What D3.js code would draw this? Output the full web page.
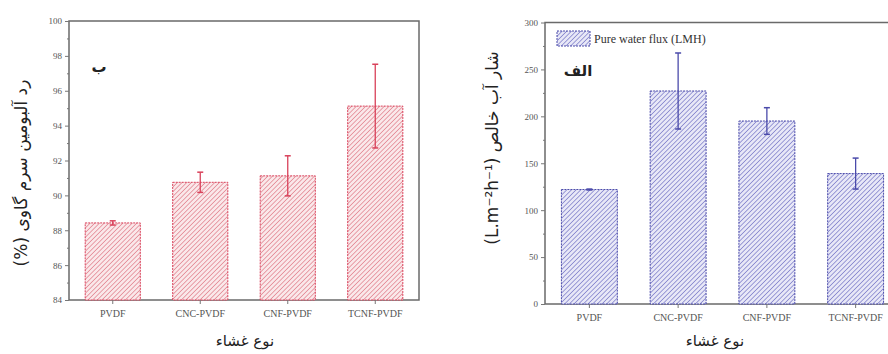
<!DOCTYPE html>
<html>
<head>
<meta charset="utf-8">
<script src="https://d3js.org/d3.v7.min.js"></script>
<style>
  body { margin: 0; background: #fff; }
  svg { display: block; }
  .tick text { font-family: "Liberation Serif", serif; fill: #555; }
</style>
</head>
<body>
<svg id="chart" width="888" height="354"></svg>
<script>
// membrane types
var categories = ["PVDF", "CNC-PVDF", "CNF-PVDF", "TCNF-PVDF"];

// left panel: BSA rejection (%)
var rejection = [88.42, 90.75, 91.12, 95.12];
var rejectionErr = [0.12, 0.58, 1.15, 2.4];
var rejectionTicks = [84, 86, 88, 90, 92, 94, 96, 98, 100];

// right panel: pure water flux (LMH)
var flux = [122, 227, 195, 139];
var fluxErr = [0.5, 40.5, 14.2, 16.5];
var fluxTicks = [0, 50, 100, 150, 200, 250, 300];

var svg = d3.select("#chart");
var defs = svg.append("defs");

function hatch(id, bg, line) {
    var p = defs.append("pattern")
        .attr("id", id)
        .attr("patternUnits", "userSpaceOnUse")
        .attr("width", 3.3).attr("height", 3.3)
        .attr("patternTransform", "rotate(45)");
    p.append("rect").attr("width", 3.3).attr("height", 3.3).attr("fill", bg);
    p.append("line").attr("x1", 0).attr("y1", 0).attr("x2", 0).attr("y2", 3.3)
        .attr("stroke", line).attr("stroke-width", 1.3);
}
hatch("redHatch", "#fae8ea", "#df7583");
hatch("blueHatch", "#e8e8f7", "#7070c4");

function panel(o) {
    var x = d3.scaleBand().domain(categories).range([o.left, o.right])
        .paddingInner(0.37).paddingOuter(0.185);
    var y = d3.scaleLinear().domain(o.domain).range([o.bottom, o.top]);
    var g = svg.append("g");

    // frame
    g.append("rect")
        .attr("x", o.left).attr("y", o.top)
        .attr("width", o.right - o.left).attr("height", o.bottom - o.top)
        .attr("fill", "none").attr("stroke", "#6a6a6a").attr("stroke-width", 1.5);

    // bars
    g.selectAll("rect.bar").data(o.values).enter().append("rect")
        .attr("class", "bar")
        .attr("x", function (d, i) { return x(categories[i]); })
        .attr("y", function (d) { return y(d); })
        .attr("width", x.bandwidth())
        .attr("height", function (d) { return o.bottom - y(d); })
        .attr("fill", "url(#" + o.pattern + ")")
        .attr("stroke", o.color).attr("stroke-width", 1)
        .attr("stroke-dasharray", "2,1");

    // error bars
    var eb = g.selectAll("g.err").data(o.values).enter().append("g").attr("class", "err");
    eb.append("line")
        .attr("x1", function (d, i) { return x(categories[i]) + x.bandwidth() / 2; })
        .attr("x2", function (d, i) { return x(categories[i]) + x.bandwidth() / 2; })
        .attr("y1", function (d, i) { return y(d + o.err[i]); })
        .attr("y2", function (d, i) { return y(d - o.err[i]); })
        .attr("stroke", o.color).attr("stroke-width", 1.3);
    [1, -1].forEach(function (s) {
        eb.append("line")
            .attr("x1", function (d, i) { return x(categories[i]) + x.bandwidth() / 2 - 3; })
            .attr("x2", function (d, i) { return x(categories[i]) + x.bandwidth() / 2 + 3; })
            .attr("y1", function (d, i) { return y(d + s * o.err[i]); })
            .attr("y2", function (d, i) { return y(d + s * o.err[i]); })
            .attr("stroke", o.color).attr("stroke-width", 1.5);
    });

    // y axis with minor ticks
    var minor = [];
    for (var k = 0; k < o.ticks.length - 1; k++) minor.push((o.ticks[k] + o.ticks[k + 1]) / 2);
    g.append("g").attr("transform", "translate(" + o.left + ",0)")
        .call(d3.axisLeft(y).tickValues(minor).tickSize(2).tickFormat(""))
        .call(function (a) { a.select(".domain").remove(); a.selectAll("line").attr("stroke", "#777"); });
    g.append("g").attr("transform", "translate(" + o.left + ",0)")
        .call(d3.axisLeft(y).tickValues(o.ticks).tickSize(4).tickPadding(3))
        .call(function (a) {
            a.select(".domain").remove();
            a.selectAll("line").attr("stroke", "#777");
            a.selectAll("text").attr("font-size", 9);
        });

    // x axis
    g.append("g").attr("transform", "translate(0," + o.bottom + ")")
        .call(d3.axisBottom(x).tickSize(4).tickPadding(6))
        .call(function (a) {
            a.select(".domain").remove();
            a.selectAll("line").attr("stroke", "#777");
            a.selectAll("text").attr("font-size", 10);
        });

    // persian labels
    g.append("text")
        .attr("transform", "translate(" + o.ylabelX + "," + o.ylabelY + ") rotate(-90)")
        .attr("text-anchor", "middle")
        .attr("direction", "rtl")
        .attr("font-family", "DejaVu Sans, sans-serif")
        .attr("font-size", o.ylabelSize).attr("fill", "#222")
        .text(o.ylabel);
    g.append("text")
        .attr("x", o.xlabelX).attr("y", 346)
        .attr("text-anchor", "middle")
        .attr("font-family", "DejaVu Sans, sans-serif")
        .attr("font-size", 15).attr("fill", "#222")
        .text("نوع غشاء");
    g.append("text")
        .attr("x", o.tagX).attr("y", o.tagY)
        .attr("text-anchor", "middle")
        .attr("font-family", "DejaVu Sans, sans-serif")
        .attr("font-weight", "bold")
        .attr("font-size", 15).attr("fill", "#222")
        .text(o.tag);
    return g;
}

panel({
    left: 69, right: 419, top: 21, bottom: 300,
    domain: [84, 100], ticks: rejectionTicks,
    values: rejection, err: rejectionErr,
    pattern: "redHatch", color: "#d9415a",
    ylabel: "رد آلبومین سرم گاوی (%)", ylabelX: 27, ylabelY: 173, ylabelSize: 17,
    xlabelX: 245, tag: "ب", tagX: 99, tagY: 72
});

var right = panel({
    left: 545, right: 900, top: 22.5, bottom: 304,
    domain: [0, 300], ticks: fluxTicks,
    values: flux, err: fluxErr,
    pattern: "blueHatch", color: "#4a4aaa",
    ylabel: "شار آب خالص (L.m⁻²h⁻¹)", ylabelX: 498, ylabelY: 148, ylabelSize: 17,
    xlabelX: 715, tag: "الف", tagX: 578, tagY: 76
});

// legend
right.append("rect")
    .attr("x", 557).attr("y", 31).attr("width", 33).attr("height", 15)
    .attr("fill", "url(#blueHatch)").attr("stroke", "#4a4aaa")
    .attr("stroke-width", 1).attr("stroke-dasharray", "2,1");
right.append("text")
    .attr("x", 594).attr("y", 43)
    .attr("font-family", "Liberation Serif, serif")
    .attr("font-size", 12).attr("fill", "#333")
    .text("Pure water flux (LMH)");
</script>
</body>
</html>
